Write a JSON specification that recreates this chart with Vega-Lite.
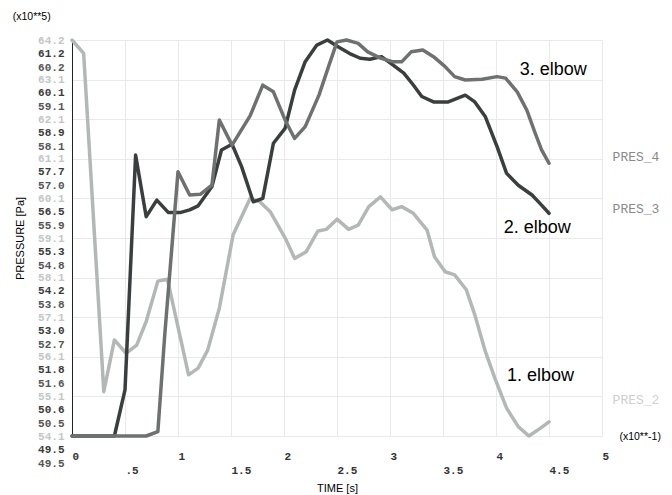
{
  "$schema": "https://vega.github.io/schema/vega-lite/v6.json",
  "width": 530,
  "height": 396,
  "autosize": {"type": "none"},
  "padding": {"left": 72, "top": 40, "right": 70, "bottom": 59},
  "background": "white",
  "config": {
    "view": {"stroke": null},
    "axis": {
      "labelFont": "Liberation Mono",
      "labelFontSize": 11,
      "labelFontWeight": "bold",
      "ticks": false,
      "titleFont": "Liberation Sans",
      "titleFontWeight": "normal",
      "titleFontSize": 11,
      "titleColor": "#000000",
      "gridColor": "#e9e9e9",
      "gridWidth": 1,
      "labelOverlap": false,
      "labelFlush": false
    }
  },
  "datasets": {
    "pres2": [
      {"t": 0, "p": 64.2}, {"t": 0.11, "p": 63.86}, {"t": 0.3, "p": 55.23}, {"t": 0.4, "p": 56.55},
      {"t": 0.51, "p": 56.21}, {"t": 0.61, "p": 56.42}, {"t": 0.7, "p": 57.02}, {"t": 0.81, "p": 58.05},
      {"t": 0.9, "p": 58.1}, {"t": 1.1, "p": 55.66}, {"t": 1.19, "p": 55.83}, {"t": 1.28, "p": 56.29},
      {"t": 1.39, "p": 57.36}, {"t": 1.52, "p": 59.23}, {"t": 1.68, "p": 60.16}, {"t": 1.77, "p": 60.08},
      {"t": 1.87, "p": 59.82}, {"t": 1.95, "p": 59.44}, {"t": 2.02, "p": 59.1}, {"t": 2.1, "p": 58.63},
      {"t": 2.21, "p": 58.8}, {"t": 2.32, "p": 59.33}, {"t": 2.4, "p": 59.37}, {"t": 2.5, "p": 59.63},
      {"t": 2.61, "p": 59.37}, {"t": 2.7, "p": 59.48}, {"t": 2.8, "p": 59.95}, {"t": 2.91, "p": 60.2},
      {"t": 3.02, "p": 59.87}, {"t": 3.11, "p": 59.95}, {"t": 3.22, "p": 59.78}, {"t": 3.35, "p": 59.35},
      {"t": 3.42, "p": 58.67}, {"t": 3.52, "p": 58.29}, {"t": 3.61, "p": 58.21}, {"t": 3.72, "p": 57.83},
      {"t": 3.8, "p": 57.19}, {"t": 3.9, "p": 56.25}, {"t": 3.99, "p": 55.57}, {"t": 4.1, "p": 54.81},
      {"t": 4.21, "p": 54.34}, {"t": 4.31, "p": 54.1}, {"t": 4.42, "p": 54.3}, {"t": 4.5, "p": 54.46}
    ],
    "pres3": [
      {"t": 0, "p": 49.5}, {"t": 0.4, "p": 49.5}, {"t": 0.5, "p": 50.86}, {"t": 0.6, "p": 57.8},
      {"t": 0.7, "p": 55.98}, {"t": 0.8, "p": 56.47}, {"t": 0.91, "p": 56.1}, {"t": 1.02, "p": 56.1},
      {"t": 1.11, "p": 56.18}, {"t": 1.19, "p": 56.3}, {"t": 1.32, "p": 56.87}, {"t": 1.41, "p": 57.95},
      {"t": 1.51, "p": 58.12}, {"t": 1.6, "p": 57.46}, {"t": 1.71, "p": 56.42}, {"t": 1.8, "p": 56.52},
      {"t": 1.9, "p": 58.15}, {"t": 2.01, "p": 58.59}, {"t": 2.1, "p": 59.72}, {"t": 2.2, "p": 60.56},
      {"t": 2.31, "p": 61.05}, {"t": 2.41, "p": 61.2}, {"t": 2.51, "p": 61.0}, {"t": 2.62, "p": 60.8},
      {"t": 2.72, "p": 60.66}, {"t": 2.81, "p": 60.63}, {"t": 2.92, "p": 60.71}, {"t": 3.03, "p": 60.46},
      {"t": 3.13, "p": 60.22}, {"t": 3.22, "p": 59.87}, {"t": 3.3, "p": 59.53}, {"t": 3.41, "p": 59.37},
      {"t": 3.55, "p": 59.37}, {"t": 3.71, "p": 59.57}, {"t": 3.8, "p": 59.37}, {"t": 3.9, "p": 58.93},
      {"t": 4.01, "p": 58.05}, {"t": 4.1, "p": 57.26}, {"t": 4.21, "p": 56.91}, {"t": 4.34, "p": 56.62},
      {"t": 4.43, "p": 56.32}, {"t": 4.5, "p": 56.08}
    ],
    "pres4": [
      {"t": 0, "p": 49.5}, {"t": 0.7, "p": 49.5}, {"t": 0.81, "p": 49.62}, {"t": 0.875, "p": 52.23},
      {"t": 1.0, "p": 56.64}, {"t": 1.11, "p": 56.01}, {"t": 1.21, "p": 56.03}, {"t": 1.32, "p": 56.28},
      {"t": 1.39, "p": 58.04}, {"t": 1.51, "p": 57.36}, {"t": 1.68, "p": 58.15}, {"t": 1.8, "p": 58.98},
      {"t": 1.9, "p": 58.8}, {"t": 2.01, "p": 58.04}, {"t": 2.1, "p": 57.54}, {"t": 2.2, "p": 57.86},
      {"t": 2.33, "p": 58.71}, {"t": 2.42, "p": 59.48}, {"t": 2.5, "p": 60.15}, {"t": 2.59, "p": 60.2},
      {"t": 2.7, "p": 60.11}, {"t": 2.79, "p": 59.88}, {"t": 2.91, "p": 59.71}, {"t": 3.03, "p": 59.61},
      {"t": 3.11, "p": 59.61}, {"t": 3.2, "p": 59.88}, {"t": 3.31, "p": 59.93}, {"t": 3.41, "p": 59.75},
      {"t": 3.52, "p": 59.48}, {"t": 3.61, "p": 59.21}, {"t": 3.71, "p": 59.12}, {"t": 3.87, "p": 59.14},
      {"t": 4.01, "p": 59.21}, {"t": 4.09, "p": 59.17}, {"t": 4.2, "p": 58.8}, {"t": 4.29, "p": 58.31},
      {"t": 4.37, "p": 57.68}, {"t": 4.43, "p": 57.23}, {"t": 4.5, "p": 56.87}
    ],
    "elbows": [
      {"t": 4.54, "p": 63.44, "label": "3. elbow"},
      {"t": 4.39, "p": 59.4, "label": "2. elbow"},
      {"t": 4.42, "p": 55.63, "label": "1. elbow"}
    ],
    "names": [
      {"t": 5.1, "p": 61.22, "label": "PRES_4", "grp": "PRES_4"},
      {"t": 5.1, "p": 59.89, "label": "PRES_3", "grp": "PRES_3"},
      {"t": 5.1, "p": 55.02, "label": "PRES_2", "grp": "PRES_2"}
    ],
    "units": [
      {"t": 5.36, "p": 54.07, "label": "(x10**-1)"},
      {"t": -0.38, "p": 64.78, "label": "(x10**5)"}
    ]
  },
  "layer": [
    {
      "encoding": {
        "x": {
          "field": "t", "type": "quantitative",
          "scale": {"domain": [0, 5], "nice": false, "zero": false},
          "axis": {
            "title": "TIME [s]",
            "titlePadding": 7,
            "values": [0, 0.5, 1, 1.5, 2, 2.5, 3, 3.5, 4, 4.5, 5],
            "labelExpr": "datum.value == 0.5 ? '.5' : format(datum.value, '~g')",
            "labelPadding": {"condition": {"test": "datum.value % 1 != 0", "value": 28}, "value": 14},
            "labelColor": "#333333",
            "labelAlign": "left",
            "labelOffset": 0,
            "domain": false,
            "grid": true
          }
        },
        "y": {
          "field": "p", "type": "quantitative",
          "scale": {"domain": [54.1, 64.2], "nice": false, "zero": false},
          "axis": {
            "orient": "left",
            "title": "PRESSURE [Pa]",
            "titlePadding": 12,
            "values": [54.1, 55.11, 56.12, 57.13, 58.14, 59.15, 60.16, 61.17, 62.18, 63.19, 64.2],
            "labelExpr": "['54.1','55.1','56.1','57.1','58.1','59.1','60.1','61.1','62.1','63.1','64.2'][round((datum.value - 54.1) / 1.01)]",
            "labelColor": "#c3c6c6",
            "labelPadding": 8,
            "domain": true,
            "domainColor": "#222222",
            "grid": true
          }
        }
      },
      "layer": [
        {
          "data": {"name": "pres2"},
          "mark": {"type": "line", "color": "#b3b8b7", "strokeWidth": 3.5, "strokeJoin": "round", "strokeCap": "round"}
        },
        {
          "data": {"name": "elbows"},
          "mark": {"type": "text", "font": "Liberation Sans", "fontSize": 18, "color": "#000000", "align": "center", "baseline": "middle"},
          "encoding": {"text": {"field": "label"}}
        },
        {
          "data": {"name": "names"},
          "mark": {"type": "text", "font": "Liberation Mono", "fontSize": 13, "align": "left", "baseline": "middle"},
          "encoding": {
            "text": {"field": "label"},
            "color": {"field": "grp", "type": "nominal", "scale": {"domain": ["PRES_4", "PRES_3", "PRES_2"], "range": ["#8a8a8a", "#8a8a8a", "#cfcfcf"]}, "legend": null}
          }
        },
        {
          "data": {"name": "units"},
          "mark": {"type": "text", "font": "Liberation Sans", "fontSize": 10.5, "color": "#000000", "align": "center", "baseline": "middle"},
          "encoding": {"text": {"field": "label"}}
        }
      ]
    },
    {
      "data": {"name": "pres3"},
      "mark": {"type": "line", "color": "#3b3e3f", "strokeWidth": 3.5, "strokeJoin": "round", "strokeCap": "round"},
      "encoding": {
        "x": {"field": "t", "type": "quantitative"},
        "y": {
          "field": "p", "type": "quantitative",
          "scale": {"domain": [49.5, 61.2], "nice": false, "zero": false},
          "axis": {
            "orient": "left",
            "title": null,
            "values": [49.5, 50.67, 51.84, 53.01, 54.18, 55.35, 56.52, 57.69, 58.86, 60.03, 61.2],
            "labelExpr": "['49.5','50.6','51.8','53.0','54.2','55.3','56.5','57.7','58.9','60.1','61.2'][round((datum.value - 49.5) / 1.17)]",
            "labelColor": "#3a3a3a",
            "labelPadding": 8,
            "labelOffset": 13,
            "domain": false,
            "grid": false
          }
        }
      }
    },
    {
      "data": {"name": "pres4"},
      "mark": {"type": "line", "color": "#6f7171", "strokeWidth": 3.5, "strokeJoin": "round", "strokeCap": "round"},
      "encoding": {
        "x": {"field": "t", "type": "quantitative"},
        "y": {
          "field": "p", "type": "quantitative",
          "scale": {"domain": [49.5, 60.2], "nice": false, "zero": false},
          "axis": {
            "orient": "left",
            "title": null,
            "values": [49.5, 50.57, 51.64, 52.71, 53.78, 54.85, 55.92, 56.99, 58.06, 59.13, 60.2],
            "labelExpr": "['49.5','50.5','51.6','52.7','53.8','54.8','55.9','57.0','58.1','59.1','60.2'][round((datum.value - 49.5) / 1.07)]",
            "labelColor": "#555555",
            "labelPadding": 8,
            "labelOffset": 27,
            "domain": false,
            "grid": false
          }
        }
      }
    }
  ],
  "resolve": {"scale": {"y": "independent"}, "axis": {"y": "independent"}}
}
